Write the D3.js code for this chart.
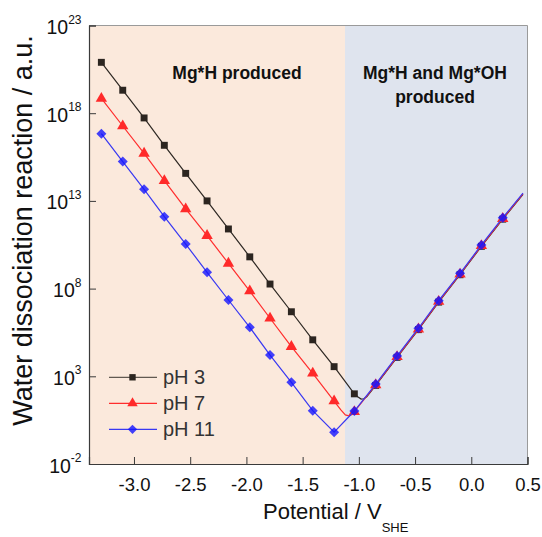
<!DOCTYPE html>
<html>
<head>
<meta charset="utf-8">
<script src="https://cdn.jsdelivr.net/npm/d3@7"></script>
<style>
  html, body { margin: 0; padding: 0; background: #ffffff; }
  svg { display: block; font-family: "Liberation Sans", Arial, sans-serif; }
</style>
</head>
<body>
<svg id="chart" width="542" height="537"></svg>
<script>
// ---------------- data ----------------
const potential = [-3.29, -3.10, -2.91, -2.73, -2.54, -2.35, -2.16, -1.97, -1.79, -1.60,
                   -1.41, -1.22, -1.04, -0.85, -0.66, -0.47, -0.29, -0.10, 0.09, 0.28];
// log10 of the water dissociation reaction (a.u.)
const pH3Log  = [20.90, 19.31, 17.73, 16.17, 14.57, 13.00, 11.40, 9.81, 8.26, 6.68,
                 5.08, 3.55, 2.00, 2.48, 4.08, 5.66, 7.23, 8.79, 10.41, 11.96];
const pH7Log  = [18.84, 17.27, 15.71, 14.15, 12.54, 11.02, 9.44, 7.86, 6.31, 4.69,
                 3.17, 1.59, 0.98, 2.51, 4.11, 5.69, 7.26, 8.82, 10.44, 11.99];
const pH11Log = [16.83, 15.24, 13.66, 12.10, 10.54, 8.93, 7.35, 5.79, 4.21, 2.66,
                 1.04, -0.19, 1.02, 2.56, 4.16, 5.74, 7.31, 8.87, 10.49, 12.04];
// extra line-only points (curve knees and line end)
const pH3ExtraX   = [-1.01, -0.98, -0.955, -0.93, 0.46];
const pH3ExtraLog = [1.83, 1.70, 1.72, 1.83, 13.37];
const pH7ExtraX   = [-1.16, -1.12, -1.09, -1.06, 0.46];
const pH7ExtraLog = [1.08, 0.80, 0.74, 0.82, 13.40];
const pH11ExtraX   = [0.46];
const pH11ExtraLog = [13.45];

const seriesNames = ["pH 3", "pH 7", "pH 11"];
const xTicks = [-3.0, -2.5, -2.0, -1.5, -1.0, -0.5, 0.0, 0.5];
const yTickExps = [-2, 3, 8, 13, 18, 23];
const xDomain = [-3.4, 0.5];
const yDomainExp = [-2, 23];
const regionBoundary = -1.123;
const regionLabels = [["Mg*H produced"], ["Mg*H and Mg*OH", "produced"]];

// ---------------- layout ----------------
const svg = d3.select("#chart");
const L = 89, R = 527.5, T = 25.5, B = 464;
const x = d3.scaleLinear().domain(xDomain).range([L, R]);
const y = d3.scaleLog().domain(yDomainExp.map(e => Math.pow(10, e))).range([B, T]);

const colors = { "pH 3": "#2c2520", "pH 7": "#ff2a2a", "pH 11": "#1414ff" };
const lineColors = { "pH 3": "#2e2823", "pH 7": "#ff2d2d", "pH 11": "#3838f2" };

// background regions
svg.append("rect").attr("x", x(xDomain[0])).attr("y", T)
  .attr("width", x(regionBoundary) - x(xDomain[0])).attr("height", B - T)
  .attr("fill", "#fbe9dc");
svg.append("rect").attr("x", x(regionBoundary)).attr("y", T)
  .attr("width", x(xDomain[1]) - x(regionBoundary)).attr("height", B - T)
  .attr("fill", "#dfe4ee");

// frame (top/right)
svg.append("line").attr("x1", L).attr("x2", R).attr("y1", T).attr("y2", T)
  .attr("stroke", "#9a9a9a").attr("stroke-width", 1);
svg.append("line").attr("x1", R).attr("x2", R).attr("y1", T).attr("y2", B)
  .attr("stroke", "#9a9a9a").attr("stroke-width", 1);

// region labels
const lbl = svg.append("g").attr("font-weight", "bold").attr("font-size", 17.5)
  .attr("fill", "#111").attr("text-anchor", "middle");
lbl.append("text").attr("x", 237).attr("y", 79).text(regionLabels[0][0]);
lbl.append("text").attr("x", 435).attr("y", 79).text(regionLabels[1][0]);
lbl.append("text").attr("x", 435).attr("y", 103).text(regionLabels[1][1]);

// series
function build(xs, logs, ex, exLog) {
  const pts = xs.map((v, i) => ({ x: v, v: Math.pow(10, logs[i]) }));
  const extra = ex.map((v, i) => ({ x: v, v: Math.pow(10, exLog[i]) }));
  return { markers: pts, line: pts.concat(extra).sort((a, b) => a.x - b.x) };
}
const series = [
  Object.assign({ name: "pH 3", shape: d3.symbolSquare, size: 48, rot: 0 }, build(potential, pH3Log, pH3ExtraX, pH3ExtraLog)),
  Object.assign({ name: "pH 7", shape: d3.symbolTriangle, size: 56, rot: 0 }, build(potential, pH7Log, pH7ExtraX, pH7ExtraLog)),
  Object.assign({ name: "pH 11", shape: d3.symbolSquare, size: 50, rot: 45 }, build(potential, pH11Log, pH11ExtraX, pH11ExtraLog))
];

const lineGen = d3.line().x(d => x(d.x)).y(d => y(d.v));
const plot = svg.append("g");
series.forEach(s => {
  plot.append("path").datum(s.line).attr("d", lineGen)
    .attr("fill", "none").attr("stroke", lineColors[s.name]).attr("stroke-width", 1.2);
  plot.selectAll(null).data(s.markers).enter().append("path")
    .attr("transform", d => `translate(${x(d.x)},${y(d.v)}) rotate(${s.rot})`)
    .attr("d", d3.symbol().type(s.shape).size(s.size))
    .attr("fill", colors[s.name])
    .attr("fill-opacity", s.name === "pH 11" ? 0.8 : 1);
});

// axes
const xAxis = d3.axisBottom(x).tickValues(xTicks).tickSize(-7).tickPadding(14)
  .tickFormat(d => d.toFixed(1));
const gx = svg.append("g").attr("transform", `translate(0,${B})`).call(xAxis);
gx.select(".domain").attr("stroke", "#3a3a3a").attr("stroke-width", 1.2);
gx.selectAll(".tick line").attr("stroke", "#3a3a3a").attr("stroke-width", 1);
gx.selectAll(".tick text").attr("font-size", 18.5).attr("fill", "#111")
  .attr("font-family", "Liberation Sans, Arial, sans-serif");

const yAxis = d3.axisLeft(y).tickValues(yTickExps.map(e => Math.pow(10, e))).tickSize(-7)
  .tickFormat("");
const gy = svg.append("g").attr("transform", `translate(${L},0)`).call(yAxis);
gy.select(".domain").attr("stroke", "#3a3a3a").attr("stroke-width", 1.2);
gy.selectAll(".tick line").attr("stroke", "#3a3a3a").attr("stroke-width", 1);
gy.selectAll(".tick").each(function(d, i) {
  const t = d3.select(this).append("text")
    .attr("x", -7.5).attr("y", 8).attr("text-anchor", "end")
    .attr("fill", "#111").attr("font-size", 19.5)
    .attr("font-family", "Liberation Sans, Arial, sans-serif");
  t.append("tspan").text("10");
  t.append("tspan").attr("dy", -10.5).attr("font-size", 12).text(String(yTickExps[i]));
});

// axis titles
const xt = svg.append("text").attr("x", 263).attr("y", 519)
  .attr("font-size", 22).attr("fill", "#111");
xt.append("tspan").text("Potential / V");
xt.append("tspan").attr("dy", 13).attr("font-size", 13).text("SHE");

svg.append("text")
  .attr("transform", "translate(32,230.5) rotate(-90)")
  .attr("text-anchor", "middle").attr("font-size", 27).attr("fill", "#111")
  .text("Water dissociation reaction / a.u.");

// legend
const leg = svg.append("g");
series.forEach((s, i) => {
  const cy = 377.3 + i * 26;
  leg.append("line").attr("x1", 109).attr("x2", 157).attr("y1", cy).attr("y2", cy)
    .attr("stroke", lineColors[s.name]).attr("stroke-width", 1.3)
    .attr("stroke-opacity", s.name === "pH 3" ? 0.75 : 1);
  leg.append("path").attr("transform", `translate(132.5,${cy}) rotate(${s.rot})`)
    .attr("d", d3.symbol().type(s.shape).size(s.size * 0.85))
    .attr("fill", colors[s.name]).attr("fill-opacity", s.name === "pH 11" ? 0.8 : 1);
  leg.append("text").attr("x", 163).attr("y", cy + 7)
    .attr("font-size", 20).attr("fill", "#333").text(s.name);
});
</script>
</body>
</html>
